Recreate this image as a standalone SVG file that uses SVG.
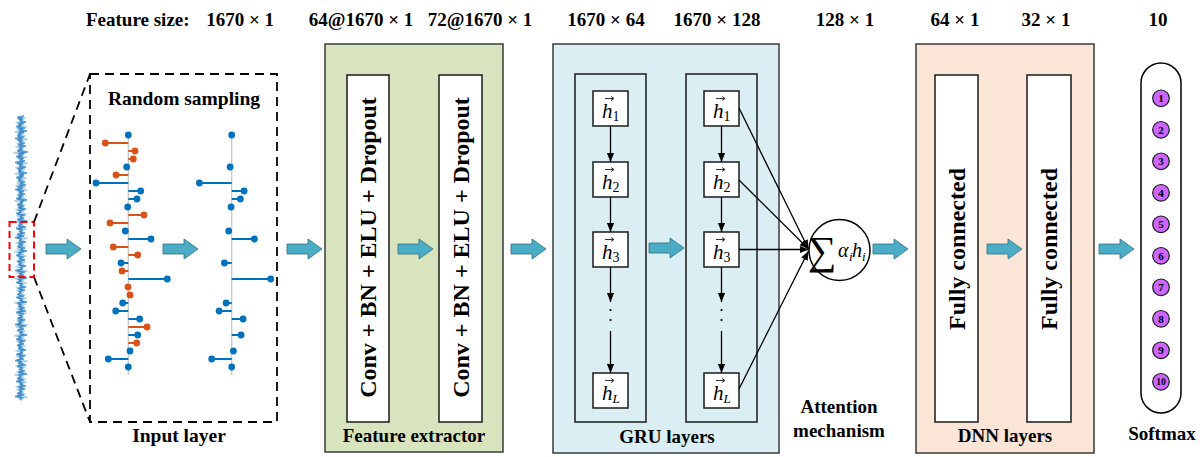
<svg xmlns="http://www.w3.org/2000/svg" xmlns:xlink="http://www.w3.org/1999/xlink" width="1200" height="457" viewBox="0 0 1200 457">
<style>
.t{font-family:"Liberation Serif","Times New Roman",serif;font-weight:bold;font-size:19px;fill:#000}
.rt{font-family:"Liberation Serif","Times New Roman",serif;font-weight:bold;font-size:24px;fill:#000}
.hv{font-family:"Liberation Serif","Times New Roman",serif;font-style:italic;font-size:21px;fill:#000}
.sub{font-family:"Liberation Serif","Times New Roman",serif;font-style:normal;font-size:14px;fill:#000}
.isub{font-family:"Liberation Serif","Times New Roman",serif;font-style:italic;font-size:13px;fill:#000}
.outer{stroke:#3a3a3a;stroke-width:1.5}
.inner{fill:#fff;stroke:#1a1a1a;stroke-width:1.5}
.hb{fill:#fff;stroke:#1a1a1a;stroke-width:1.5}
.arr{fill:#4bacc6;stroke:#2e6f82;stroke-width:0.8}
.con{stroke:#000;stroke-width:1.3;fill:none}
.num{font-family:"Liberation Serif","Times New Roman",serif;font-weight:bold;font-size:11px;fill:#000}
.sm{fill:#cc66ff;stroke:#1a1a1a;stroke-width:1.2}
</style>
<defs>
<path id="barrow" d="M0,-5 H21 V-10 L35,0 L21,10 V5 H0 Z"/>
<marker id="ah" viewBox="0 0 10 10" refX="10" refY="5" markerWidth="9" markerHeight="9" orient="auto" markerUnits="userSpaceOnUse"><path d="M0,1 L10,5 L0,9 Z" fill="#000"/></marker>
<path id="vec" d="M0,0 h8 M6,-2 L9,0 L6,2" fill="none" stroke="#000" stroke-width="0.8"/>
<polyline id="sig" fill="none" points="3,0 -4,1 2,2 -1,3 5,4 -3,5 1,6 -5,7 4,8 -2,9 6,10 -3,11 0,12 -4,13 3,14 -6,15 2,16 -1,17 4,18 -3,19 5,20 -2,21 1,22 -4,23 7,24 -3,25 2,26 -5,27 3,28 -1,29 4,30 -6,31 2,32 -2,33 5,34 -4,35 1,36 -3,37 6,38 -2,39 3,40 -5,41 0,42 -3,43 4,44 -1,45 5,46 -4,47 2,48 -6,49 3,50 -2,51 4,52 -3,53 1,54 -5,55 6,56 -1,57 2,58 -4,59 3,60 -3,61 5,62 -2,63 0,64 -5,65 4,66 -1,67 3,68 -4,69 6,70 -2,71 1,72 -3,73 5,74 -5,75 2,76 -1,77 4,78 -4,79 3,80 -6,81 1,82 -2,83 5,84 -3,85 2,86 -4,87 4,88 -1,89 6,90 -3,91 0,92 -5,93 3,94 -2,95 4,96 -4,97 1,98 -3,99 5,100 -1,101 2,102 -6,103 4,104 -2,105 3,106 -4,107 6,108 -3,109 1,110 -5,111 2,112 -1,113 5,114 -3,115 4,116 -2,117 0,118 -4,119 3,120 -5,121 2,122 -1,123 6,124 -4,125 1,126 -3,127 4,128 -2,129 5,130 -5,131 3,132 -1,133 2,134 -4,135 4,136 -3,137 1,138 -6,139 5,140 -2,141 3,142 -4,143 2,144 -1,145 6,146 -3,147 0,148 -5,149 4,150 -2,151 3,152 -4,153 1,154 -3,155 5,156 -1,157 2,158 -5,159 4,160 -2,161 3,162 -6,163 1,164 -3,165 5,166 -4,167 2,168 -1,169 4,170 -3,171 6,172 -2,173 0,174 -4,175 3,176 -5,177 2,178 -1,179 5,180 -3,181 4,182 -2,183 1,184 -4,185 3,186 -6,187 2,188 -1,189"/>
</defs>

<!-- top labels -->
<g id="top-labels">
<text class="t" x="86" y="26">Feature size:</text>
<text class="t" x="274" y="26" text-anchor="end">1670 × 1</text>
<text class="t" x="361" y="26" text-anchor="middle">64@1670 × 1</text>
<text class="t" x="480" y="26" text-anchor="middle">72@1670 × 1</text>
<text class="t" x="606" y="26" text-anchor="middle">1670 × 64</text>
<text class="t" x="717" y="26" text-anchor="middle">1670 × 128</text>
<text class="t" x="845" y="26" text-anchor="middle">128 × 1</text>
<text class="t" x="955" y="26" text-anchor="middle">64 × 1</text>
<text class="t" x="1046" y="26" text-anchor="middle">32 × 1</text>
<text class="t" x="1158" y="26" text-anchor="middle">10</text>
</g>

<!-- raw signal -->
<g id="signal">
<use href="#sig" xlink:href="#sig" transform="translate(21,116.7) scale(-1.1,1.5)" stroke="#a8d0ec" stroke-width="1" vector-effect="non-scaling-stroke"/>
<use href="#sig" xlink:href="#sig" transform="translate(21,116) scale(1,1.5)" stroke="#5a9fd4" stroke-width="1" vector-effect="non-scaling-stroke"/>
<use href="#sig" xlink:href="#sig" transform="translate(20.5,117.2) scale(0.6,1.49)" stroke="#3c87c2" stroke-width="0.8" vector-effect="non-scaling-stroke"/>
<rect x="9.5" y="222" width="24.5" height="55" fill="none" stroke="#ff0000" stroke-width="2" stroke-dasharray="7,4"/>
</g>

<!-- input layer -->
<g id="input-layer">
<path d="M34,222 L90,74 M34,277 L90,422" fill="none" stroke="#000" stroke-width="1.8" stroke-dasharray="9,6"/>
<rect x="90" y="74" width="187" height="348" fill="none" stroke="#000" stroke-width="1.8" stroke-dasharray="9,6"/>
<text class="t" x="184" y="105" text-anchor="middle" style="font-size:19.5px">Random sampling</text>
<text class="t" x="179" y="442" text-anchor="middle" style="font-size:19.5px">Input layer</text>
<path d="M128.3,132 V375 M231.7,132 V375" stroke="#c8c8c8" stroke-width="1.3"/>
<g id="orange-stems" fill="#d95319">
<path d="M128.3,143H105.3 M128.3,151H135 M128.3,159H133.3 M128.3,175H116 M128.3,215H144 M128.3,223H110 M128.3,247H113.3 M128.3,255H137.7 M128.3,271H122 M128.3,295H130 M128.3,327H147 M128.3,343H136.7" stroke="#d95319" stroke-width="1.8"/>
<circle cx="105.3" cy="143" r="3.4"/><circle cx="135" cy="151" r="3.4"/><circle cx="133.3" cy="159" r="3.4"/><circle cx="116" cy="175" r="3.4"/><circle cx="144" cy="215" r="3.4"/><circle cx="110" cy="223" r="3.4"/><circle cx="113.3" cy="247" r="3.4"/><circle cx="137.7" cy="255" r="3.4"/><circle cx="122" cy="271" r="3.4"/><circle cx="128" cy="287" r="3.4"/><circle cx="130" cy="295" r="3.4"/><circle cx="147" cy="327" r="3.4"/><circle cx="136.7" cy="343" r="3.4"/>
</g>
<g id="blue-stems" fill="#0072bd">
<path d="M128.3,167H126.7 M128.3,183H96 M128.3,191H140.7 M128.3,199H137 M128.3,231H125.3 M128.3,239H151 M128.3,263H121 M128.3,279H167.3 M128.3,303H122.7 M128.3,311H115.7 M128.3,319H139.7 M128.3,335H137.7 M128.3,351H130 M128.3,359H108.3" stroke="#0072bd" stroke-width="1.8"/>
<circle cx="128.3" cy="135" r="3.4"/><circle cx="126.7" cy="167" r="3.4"/><circle cx="96" cy="183" r="3.4"/><circle cx="140.7" cy="191" r="3.4"/><circle cx="137" cy="199" r="3.4"/><circle cx="127.7" cy="207" r="3.4"/><circle cx="125.3" cy="231" r="3.4"/><circle cx="151" cy="239" r="3.4"/><circle cx="121" cy="263" r="3.4"/><circle cx="167.3" cy="279" r="3.4"/><circle cx="122.7" cy="303" r="3.4"/><circle cx="115.7" cy="311" r="3.4"/><circle cx="139.7" cy="319" r="3.4"/><circle cx="137.7" cy="335" r="3.4"/><circle cx="130" cy="351" r="3.4"/><circle cx="108.3" cy="359" r="3.4"/><circle cx="128.3" cy="367" r="3.4"/>
</g>
<use href="#blue-stems" xlink:href="#blue-stems" x="103.4" y="0"/>
</g>

<!-- feature extractor -->
<g id="feature-extractor">
<rect class="outer" x="325" y="44" width="178" height="408" fill="#d7e4bd"/>
<rect class="inner" x="347" y="75" width="42" height="347"/>
<rect class="inner" x="439" y="75" width="43" height="347"/>
<text class="rt" transform="translate(368,247.5) rotate(-90)" text-anchor="middle" dy="0.35em">Conv + BN + ELU + Dropout</text>
<text class="rt" transform="translate(460.5,247.5) rotate(-90)" text-anchor="middle" dy="0.35em">Conv + BN + ELU + Dropout</text>
<text class="t" x="414" y="442" text-anchor="middle">Feature extractor</text>
</g>

<!-- GRU layers -->
<g id="gru-layers">
<rect class="outer" x="553" y="44" width="226" height="409" fill="#daeef3"/>
<rect x="575" y="74" width="71" height="348" fill="none" stroke="#1a1a1a" stroke-width="1.5"/>
<rect x="686" y="74" width="71" height="348" fill="none" stroke="#1a1a1a" stroke-width="1.5"/>
<text class="t" x="667" y="443" text-anchor="middle">GRU layers</text>
</g>
<g id="gru-col1">
<rect class="hb" x="593" y="91" width="35" height="35"/>
<rect class="hb" x="593" y="162" width="35" height="35"/>
<rect class="hb" x="593" y="232" width="35" height="35"/>
<rect class="hb" x="593" y="373" width="35" height="35"/>
<text class="hv" x="602" y="118">h<tspan class="sub" dy="3">1</tspan></text>
<text class="hv" x="602" y="189">h<tspan class="sub" dy="3">2</tspan></text>
<text class="hv" x="602" y="259">h<tspan class="sub" dy="3">3</tspan></text>
<text class="hv" x="602" y="400">h<tspan class="isub" dy="3">L</tspan></text>
<use href="#vec" xlink:href="#vec" x="605" y="98.5"/>
<use href="#vec" xlink:href="#vec" x="605" y="169.5"/>
<use href="#vec" xlink:href="#vec" x="605" y="239.5"/>
<use href="#vec" xlink:href="#vec" x="605" y="380.5"/>
</g>
<g id="gru-col2">
<rect class="hb" x="704" y="91" width="35" height="35"/>
<rect class="hb" x="704" y="162" width="35" height="35"/>
<rect class="hb" x="704" y="232" width="35" height="35"/>
<rect class="hb" x="704" y="373" width="35" height="35"/>
<text class="hv" x="713" y="118">h<tspan class="sub" dy="3">1</tspan></text>
<text class="hv" x="713" y="189">h<tspan class="sub" dy="3">2</tspan></text>
<text class="hv" x="713" y="259">h<tspan class="sub" dy="3">3</tspan></text>
<text class="hv" x="713" y="400">h<tspan class="isub" dy="3">L</tspan></text>
<use href="#vec" xlink:href="#vec" x="716" y="98.5"/>
<use href="#vec" xlink:href="#vec" x="716" y="169.5"/>
<use href="#vec" xlink:href="#vec" x="716" y="239.5"/>
<use href="#vec" xlink:href="#vec" x="716" y="380.5"/>
</g>

<!-- attention -->
<g id="attention">
<circle cx="839.5" cy="250" r="30.5" fill="#fff" stroke="#000" stroke-width="1.5"/>
<text x="822" y="264" text-anchor="middle" style="font-family:'Liberation Serif','DejaVu Serif',serif;font-size:40px">∑</text>
<text class="hv" y="257" style="font-size:20px"><tspan x="838">α</tspan><tspan class="isub" x="849" y="261">i</tspan><tspan x="852" y="257">h</tspan><tspan class="isub" x="862" y="261">i</tspan></text>
<text class="t" x="839" y="413" text-anchor="middle">Attention</text>
<text class="t" x="839" y="437" text-anchor="middle">mechanism</text>
</g>

<!-- DNN layers -->
<g id="dnn-layers">
<rect class="outer" x="916" y="44" width="178" height="409" fill="#fbe5d6"/>
<rect class="inner" x="935" y="75" width="43" height="347"/>
<rect class="inner" x="1027" y="75" width="44" height="347"/>
<text class="rt" transform="translate(956.5,249) rotate(-90)" text-anchor="middle" dy="0.35em">Fully connected</text>
<text class="rt" transform="translate(1049,249) rotate(-90)" text-anchor="middle" dy="0.35em">Fully connected</text>
<text class="t" x="1005" y="442" text-anchor="middle">DNN layers</text>
</g>

<!-- softmax -->
<g id="softmax">
<rect x="1141" y="63" width="40" height="350" rx="20" ry="20" fill="#fff" stroke="#000" stroke-width="1.5"/>
<circle class="sm" cx="1161" cy="98.3" r="8.3"/>
<circle class="sm" cx="1161" cy="129.8" r="8.3"/>
<circle class="sm" cx="1161" cy="161.3" r="8.3"/>
<circle class="sm" cx="1161" cy="192.8" r="8.3"/>
<circle class="sm" cx="1161" cy="224.3" r="8.3"/>
<circle class="sm" cx="1161" cy="255.8" r="8.3"/>
<circle class="sm" cx="1161" cy="287.3" r="8.3"/>
<circle class="sm" cx="1161" cy="318.8" r="8.3"/>
<circle class="sm" cx="1161" cy="350.3" r="8.3"/>
<circle class="sm" cx="1161" cy="381.8" r="8.3"/>
<g class="num" text-anchor="middle">
<text x="1161" y="102.1">1</text><text x="1161" y="133.6">2</text><text x="1161" y="165.1">3</text><text x="1161" y="196.6">4</text><text x="1161" y="228.1">5</text><text x="1161" y="259.6">6</text><text x="1161" y="291.1">7</text><text x="1161" y="322.6">8</text><text x="1161" y="354.1">9</text><text x="1161" y="385.3" style="font-size:9.5px">10</text>
</g>
<text class="t" x="1162" y="440" text-anchor="middle">Softmax</text>
</g>

<!-- connectors -->
<g id="connectors">
<g class="arr">
<use href="#barrow" xlink:href="#barrow" x="46" y="249"/>
<use href="#barrow" xlink:href="#barrow" x="163" y="249"/>
<use href="#barrow" xlink:href="#barrow" x="287" y="249"/>
<use href="#barrow" xlink:href="#barrow" x="398" y="249"/>
<use href="#barrow" xlink:href="#barrow" x="511" y="249"/>
<use href="#barrow" xlink:href="#barrow" x="649" y="248"/>
<use href="#barrow" xlink:href="#barrow" x="873" y="249"/>
<use href="#barrow" xlink:href="#barrow" x="987" y="249"/>
<use href="#barrow" xlink:href="#barrow" x="1099" y="249"/>
</g>
<g class="con" marker-end="url(#ah)">
<path d="M610.5,126 V162"/>
<path d="M610.5,197 V232"/>
<path d="M610.5,267 V302"/>
<path d="M610.5,331 V373"/>
<path d="M721.5,126 V162"/>
<path d="M721.5,197 V232"/>
<path d="M721.5,267 V302"/>
<path d="M721.5,331 V373"/>
<path d="M739,108 L808.5,249"/>
<path d="M739,180 L808.5,249"/>
<path d="M739,249.5 L808.5,249.5"/>
<path d="M739,389 L808.5,251"/>
</g>
<g fill="#000">
<circle cx="610.5" cy="310" r="1.1"/><circle cx="610.5" cy="320" r="1.1"/>
<circle cx="721.5" cy="310" r="1.1"/><circle cx="721.5" cy="320" r="1.1"/>
</g>
</g>
</svg>
